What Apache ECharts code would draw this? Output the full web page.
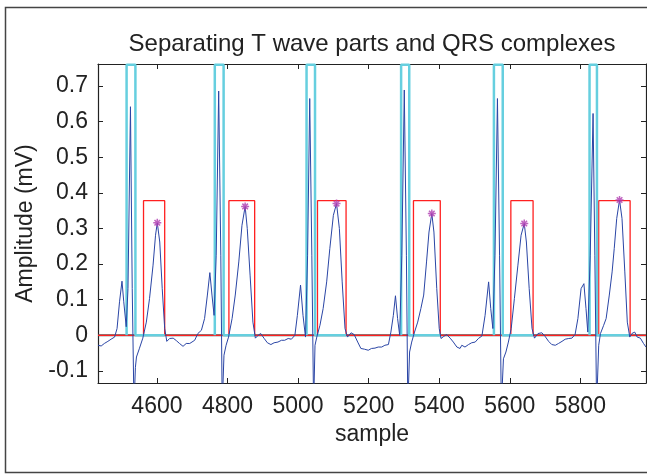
<!DOCTYPE html>
<html>
<head>
<meta charset="utf-8">
<script src="https://cdn.jsdelivr.net/npm/echarts@6/dist/echarts.min.js"></script>
<style>
  html, body { margin: 0; padding: 0; background: #fff; }
  #chart { width: 647px; height: 474px; }
</style>
</head>
<body>
<div id="chart"></div>
<script>
// ecg trace (sample, mV)
const ecgSample = [
  4433, 4442, 4451, 4461, 4470, 4480, 4487, 4494, 4501, 4506, 4513, 4518, 4525, 4530, 4535, 4539, 4542, 4550,
  4560, 4570, 4579, 4589, 4596, 4601, 4608, 4615, 4622, 4628, 4636, 4646, 4655, 4664, 4674, 4683, 4693,
  4698, 4707, 4716, 4726, 4735, 4743, 4750, 4756, 4762, 4768, 4775, 4781, 4785, 4790, 4796, 4803, 4813,
  4822, 4832, 4841, 4850, 4856, 4864, 4872, 4879, 4887, 4894, 4904, 4913, 4923, 4932, 4943, 4953,
  4962, 4972, 4981, 4991, 4998, 5007, 5014, 5021, 5027, 5033, 5039, 5044, 5048, 5053, 5062, 5071,
  5081, 5090, 5100, 5109, 5117, 5125, 5133, 5140, 5150, 5159, 5169, 5178, 5188, 5199, 5208, 5218,
  5227, 5237, 5246, 5256, 5263, 5270, 5276, 5282, 5288, 5294, 5301, 5307, 5311, 5316, 5322, 5330,
  5339, 5348, 5356, 5364, 5371, 5379, 5385, 5393, 5400, 5405, 5413, 5421, 5431, 5440, 5450, 5459,
  5464, 5473, 5483, 5492, 5502, 5511, 5521, 5530, 5540, 5546, 5552, 5558, 5565, 5571, 5576, 5582,
  5589, 5596, 5604, 5613, 5623, 5632, 5641, 5647, 5655, 5663, 5670, 5680, 5691, 5700, 5710, 5719,
  5729, 5738, 5748, 5757, 5767, 5776, 5785, 5793, 5802, 5810, 5816, 5821, 5828, 5836, 5841, 5846,
  5852, 5857, 5866, 5873, 5882, 5890, 5896, 5903, 5911, 5918, 5926, 5933, 5940, 5946, 5954, 5961,
  5970, 5979, 5986
];
const ecgValue = [
  -0.028, -0.030, -0.023, -0.017, -0.011, -0.005, 0.019, 0.094, 0.152, 0.094, 0.024, 0.131, 0.642, 0.131, -0.2, -0.09, -0.061, -0.038,
  -0.008, 0.037, 0.103, 0.197, 0.281, 0.316, 0.262, 0.131, 0.019, -0.017, -0.009, -0.008, -0.015, -0.023, -0.031, -0.023, -0.023,
  -0.021, -0.014, 0.005, 0.014, 0.047, 0.113, 0.176, 0.113, 0.056, 0.225, 0.686, 0.225, -0.2, -0.056, -0.028, -0.005, 0.047,
  0.113, 0.206, 0.309, 0.362, 0.300, 0.169, 0.037, -0.008, 0.000, 0.005, -0.009, -0.021, -0.026, -0.021, -0.019, -0.014,
  -0.014, -0.009, -0.011, 0.000, 0.056, 0.141, 0.056, -0.005, 0.225, 0.665, 0.225, -0.2, -0.028, -0.005, 0.028, 0.075,
  0.150, 0.244, 0.337, 0.370, 0.300, 0.150, 0.019, -0.005, 0.007, 0.002, -0.019, -0.037, -0.039, -0.042, -0.037, -0.036,
  -0.033, -0.033, -0.028, -0.026, 0.009, 0.056, 0.111, 0.047, 0.000, 0.225, 0.689, 0.225, -0.2, -0.047, -0.019, 0.009,
  0.037, 0.075, 0.113, 0.206, 0.290, 0.342, 0.290, 0.131, 0.019, -0.009, -0.003, 0.002, -0.008, -0.019, -0.033, -0.037,
  -0.028, -0.033, -0.026, -0.021, -0.019, -0.009, -0.002, 0.056, 0.150, 0.075, 0.019, 0.225, 0.665, 0.225, -0.2, -0.066,
  -0.047, -0.019, 0.019, 0.103, 0.197, 0.281, 0.314, 0.262, 0.131, 0.019, -0.008, 0.005, 0.007, -0.003, -0.017, -0.026,
  -0.028, -0.023, -0.017, -0.011, -0.009, -0.008, 0.002, 0.047, 0.131, 0.145, 0.075, 0.009, 0.225, 0.623, 0.225, -0.2,
  -0.028, 0.005, 0.028, 0.047, 0.113, 0.178, 0.244, 0.328, 0.380, 0.328, 0.178, 0.037, -0.005, 0.005, 0.009, -0.005,
  -0.008, -0.023, -0.033
];

// QRS windows (cyan) and T wave windows (red)
const qrsStart = [4514, 4764, 5024, 5292, 5555, 5826];
const qrsEnd   = [4539, 4789, 5048, 5315, 5580, 5847];
const twStart  = [4562, 4804, 5055, 5327, 5603, 5852];
const twEnd    = [4622, 4877, 5136, 5403, 5666, 5941];
const qrsLevel = 0.76;
const twLevel = 0.378;

// T wave peaks
const peakSample = [4601, 4850, 5109, 5379, 5641, 5911];
const peakValue  = [0.316, 0.362, 0.370, 0.342, 0.314, 0.380];

const xTicks = [4600, 4800, 5000, 5200, 5400, 5600, 5800];
const yTicks = [-0.1, 0, 0.1, 0.2, 0.3, 0.4, 0.5, 0.6, 0.7];
const xMin = 4433, xMax = 5986, yMin = -0.134, yMax = 0.762;

const FONT = '"Liberation Sans", Arial, Helvetica, sans-serif';

const ecgData = ecgSample.map((s, i) => [s, ecgValue[i]]);
const peakData = peakSample.map((s, i) => [s, peakValue[i]]);

// red window trace: zero everywhere with boxes
const twData = [[xMin, 0]];
twStart.forEach((s, i) => {
  twData.push([s, 0], [s, twLevel], [twEnd[i], twLevel], [twEnd[i], 0]);
});
twData.push([xMax, 0]);

// cyan window trace: box over QRS, then flat till end of T window
const qrsData = [];
qrsStart.forEach((s, i) => {
  qrsData.push([s, 0], [s, qrsLevel], [qrsEnd[i], qrsLevel], [qrsEnd[i], 0], [twEnd[i], 0], [null, null]);
});

const chart = echarts.init(document.getElementById('chart'));

const baseX = {
  type: 'value', min: xMin, max: xMax,
  splitLine: { show: false },
  axisLine: { show: true, onZero: false, lineStyle: { color: '#222', width: 1.2 } },
  axisTick: { show: true, inside: true, length: 5, customValues: xTicks, lineStyle: { color: '#222' } }
};
const baseY = {
  type: 'value', min: yMin, max: yMax,
  splitLine: { show: false },
  axisLine: { show: true, onZero: false, lineStyle: { color: '#222', width: 1.2 } },
  axisTick: { show: true, inside: true, length: 5, customValues: yTicks, lineStyle: { color: '#222' } }
};

chart.setOption({
  animation: false,
  backgroundColor: '#fff',
  grid: { left: 98, top: 64, right: 1, bottom: 91 },
  xAxis: [
    Object.assign({}, baseX, {
      position: 'bottom',
      name: 'sample', nameLocation: 'middle', nameGap: 38,
      nameTextStyle: { fontFamily: FONT, fontSize: 23, color: '#222' },
      axisLabel: {
        customValues: xTicks, margin: 12, fontFamily: FONT, fontSize: 23, color: '#222',
        formatter: v => String(v)
      }
    }),
    Object.assign({}, baseX, { position: 'top', axisLabel: { show: false } })
  ],
  yAxis: [
    Object.assign({}, baseY, {
      position: 'left',
      name: 'Amplitude (mV)', nameLocation: 'middle', nameGap: 58,
      nameTextStyle: { fontFamily: FONT, fontSize: 23, color: '#222' },
      axisLabel: {
        customValues: yTicks, margin: 10, fontFamily: FONT, fontSize: 23, color: '#222',
        formatter: v => String(Math.round(v * 10) / 10)
      }
    }),
    Object.assign({}, baseY, { position: 'right', axisLabel: { show: false } })
  ],
  graphic: [
    {
      type: 'rect', silent: true, z: -1,
      shape: { x: 5.5, y: 7.5, width: 700, height: 465 },
      style: { fill: 'none', stroke: '#444', lineWidth: 1.5 }
    },
    {
      type: 'text', x: 372, y: 44,
      style: {
        text: 'Separating T wave parts and QRS complexes',
        fontFamily: FONT, fontSize: 24, fill: '#222',
        textAlign: 'center', textVerticalAlign: 'middle'
      }
    }
  ],
  series: [
    {
      type: 'line', data: [[xMin, 0], [xMax, 0]], symbol: 'none', z: 1,
      lineStyle: { color: '#555', width: 2 }
    },
    {
      type: 'line', data: twData, symbol: 'none', z: 2,
      lineStyle: { color: '#ff2020', width: 1.3 }
    },
    {
      type: 'line', data: qrsData, symbol: 'none', connectNulls: false, z: 3,
      lineStyle: { color: '#66cfdf', width: 2.5 }
    },
    {
      type: 'line', data: ecgData, symbol: 'none', z: 4,
      lineStyle: { color: '#2a45a5', width: 1 }
    },
    {
      type: 'scatter', data: peakData, z: 5,
      symbol: 'path://M0,5 L10,5 M5,0 L5,10 M1.5,1.5 L8.5,8.5 M8.5,1.5 L1.5,8.5',
      symbolSize: 8,
      itemStyle: { color: 'rgba(0,0,0,0)', borderColor: '#b03cb0', borderWidth: 1.5 }
    }
  ]
});
</script>
</body>
</html>
